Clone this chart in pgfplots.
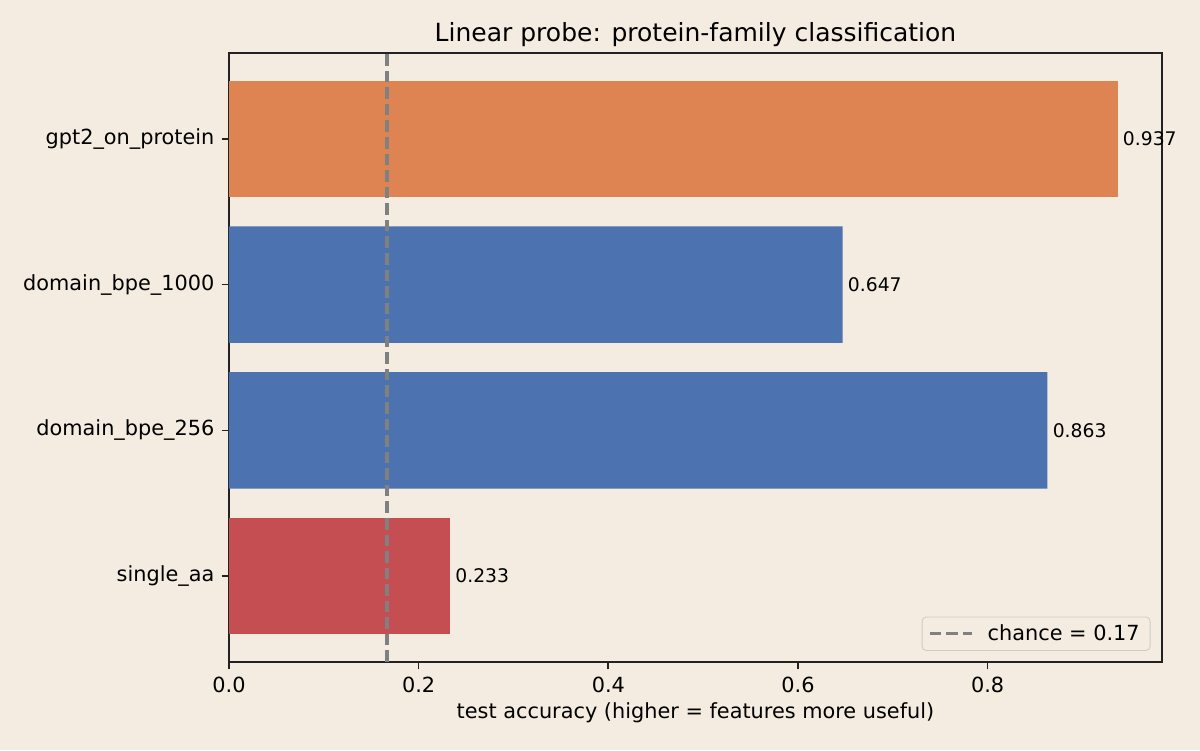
\documentclass[border=0pt]{standalone}
\usepackage{pgfplots}
\pgfplotsset{compat=1.18}
\usepackage{fontspec}
\setmainfont{DejaVu Sans}
\definecolor{bg}{HTML}{F4ECE0}
\definecolor{cOrange}{HTML}{DD8452}
\definecolor{cBlue}{HTML}{4C72B0}
\definecolor{cRed}{HTML}{C44E52}
\definecolor{frame}{HTML}{222222}
\begin{document}
\begin{tikzpicture}
% page background (1200x750 px at 0.48pt per px)
\fill[bg] (-109.92pt,-42.24pt) rectangle ++(576pt,360pt);
\begin{axis}[
  scale only axis,
  width=447.84pt, height=292.32pt,
  xmin=0, xmax=0.98385,
  ymin=-0.59, ymax=3.59,
  axis background/.style={fill=bg},
  axis line style={frame, line width=0.8pt},
  xtick={0,0.2,0.4,0.6,0.8},
  xticklabels={0.0,0.2,0.4,0.6,0.8},
  ytick={0,1,2,3},
  yticklabels={single\_aa,domain\_bpe\_256,domain\_bpe\_1000,gpt2\_on\_protein},
  tick align=outside,
  major tick length=3.5pt,
  tick style={frame, line width=0.8pt},
  xtick pos=bottom, ytick pos=left,
  ticklabel style={font=\fontsize{10}{12}\selectfont},
  /pgf/number format/assume math mode=true,
  xlabel={test accuracy (higher = features more useful)},
  xlabel style={font=\fontsize{10}{12}\selectfont, yshift=2pt},
  title={Linear probe: protein-family classification},
  title style={font=\fontsize{12}{14}\selectfont, yshift=-6.3pt},
  legend style={
    at={(1,0)}, anchor=south east, xshift=-5.5pt, yshift=5.3pt,
    draw=black!20, rounded corners=2pt, fill=bg, fill opacity=0.8, text opacity=1,
    font=\fontsize{10}{12}\selectfont, inner xsep=3pt, inner ysep=1.5pt
  },
  legend image code/.code={\draw[#1] (0pt,0pt) -- (20pt,0pt);},
  legend cell align=left,
  clip=false,
]
\addplot[xbar, bar width=0.8, fill=cRed, draw=none, bar shift=0pt, forget plot] coordinates {(0.233,0)};
\addplot[xbar, bar width=0.8, fill=cBlue, draw=none, bar shift=0pt, forget plot] coordinates {(0.863,1) (0.647,2)};
\addplot[xbar, bar width=0.8, fill=cOrange, draw=none, bar shift=0pt, forget plot] coordinates {(0.937,3)};
% value labels
\addplot[only marks, mark=none, forget plot,
  nodes near coords={\pgfmathprintnumber[fixed, precision=3, fixed zerofill]{\pgfplotspointmeta}},
  point meta=x,
  nodes near coords style={anchor=west, inner sep=0pt, xshift=2.4pt, font=\fontsize{9}{11}\selectfont, text=black}]
  coordinates {(0.233,0) (0.863,1) (0.647,2) (0.937,3)};
% chance level
\addplot[gray, line width=1.5pt, dash pattern=on 5.55pt off 2.4pt] coordinates {(0.16667,-0.59) (0.16667,3.59)};
\addlegendentry{\hspace{5pt}chance = 0.17}
\end{axis}
\end{tikzpicture}
\end{document}
